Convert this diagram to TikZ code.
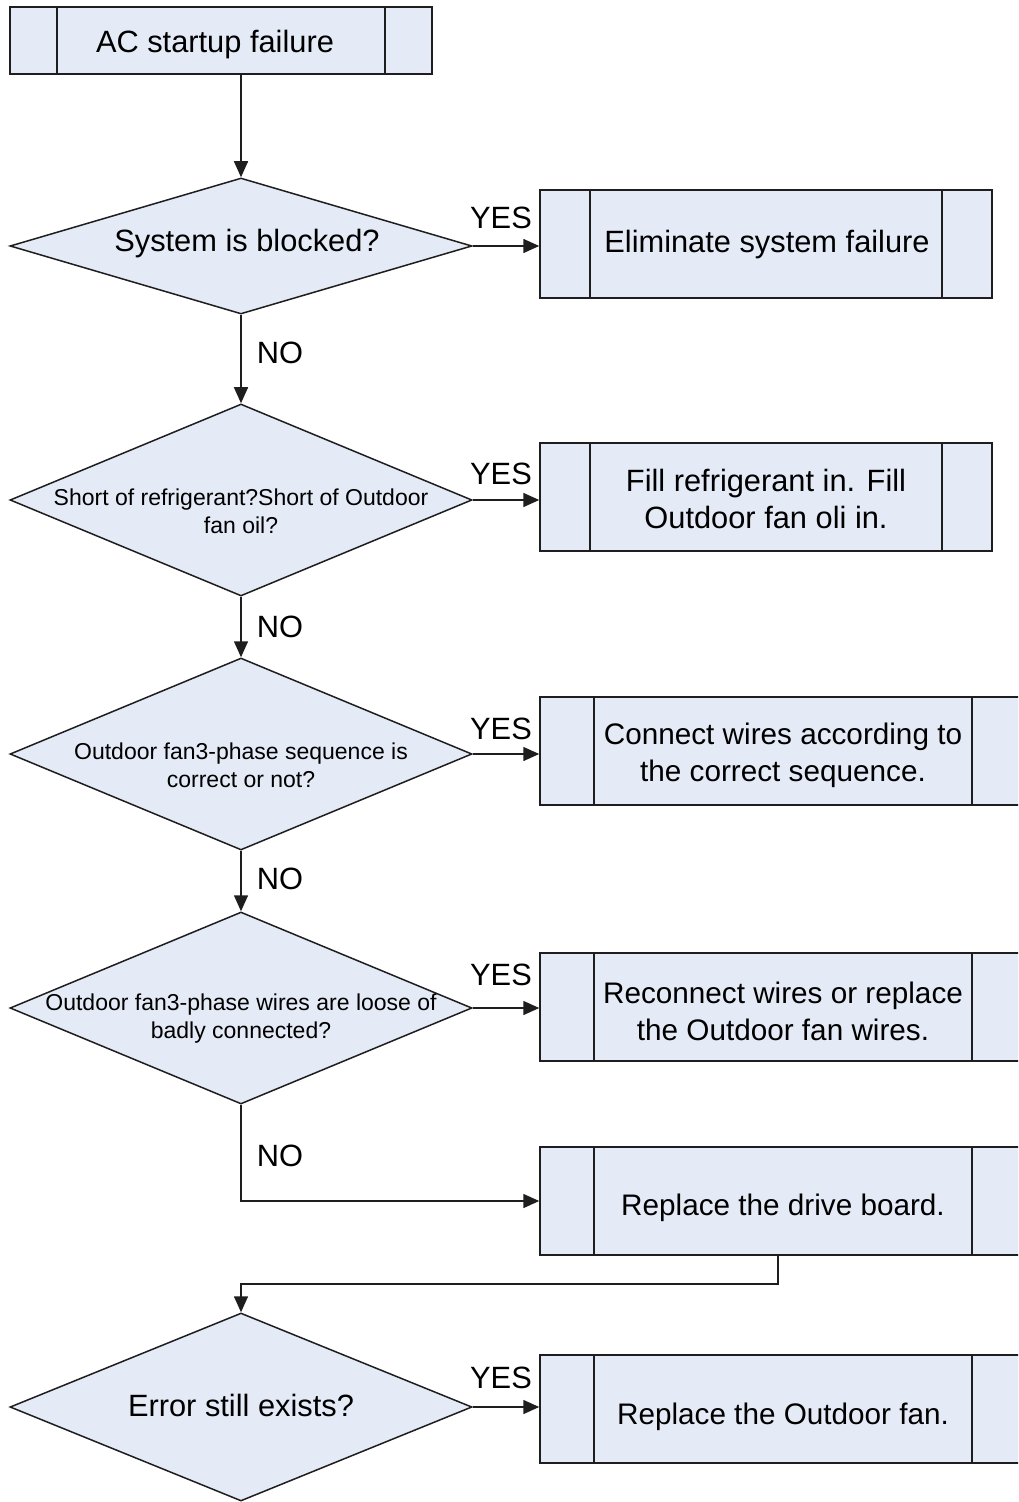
\documentclass[tikz,border=0pt]{standalone}
\usepackage{fontspec}
\setmainfont{Liberation Sans}
\usetikzlibrary{shapes.geometric,arrows.meta}
\definecolor{fc}{RGB}{228,234,246}
\definecolor{lc}{RGB}{30,30,30}
\begin{document}
\begin{tikzpicture}[x=0.5pt,y=-0.5pt,
  bigfont/.style={font=\fontsize{15.4}{18.5}\selectfont},
  midfont/.style={font=\fontsize{14.85}{18.5}\selectfont},
  smallfont/.style={font=\fontsize{11.5}{14}\selectfont},
  proc/.style={rectangle, draw=lc, fill=fc, line width=0.75pt, inner sep=0pt,
    minimum height=54pt,
    path picture={\draw[lc, line width=0.75pt]
      ([xshift=#1]path picture bounding box.north west) -- ([xshift=#1]path picture bounding box.south west)
      ([xshift=-#1]path picture bounding box.north east) -- ([xshift=-#1]path picture bounding box.south east);}},
  dec/.style={diamond, draw=lc, fill=fc, line width=0.75pt, inner sep=0pt, minimum width=231pt},
  txt/.style={align=center, inner sep=0pt},
  lbl/.style={bigfont, inner sep=0pt},
  arr/.style={draw=lc, line width=0.75pt, -{Triangle[length=8pt,width=7pt]}},
  ln/.style={draw=lc, line width=0.75pt}]
\clip (0,0) rectangle (1018,1502);
\fill[white] (0,0) rectangle (1018,1502);

\node[proc=23.5pt, minimum width=211pt, minimum height=33.5pt] (start) at (221,40.5) {};
\node[txt, bigfont] (startt) at (215,45) {AC startup failure};

\node[dec, minimum height=68pt] (d1) at (241,246) {};
\node[txt, bigfont] (d1t) at (247,244) {System is blocked?};
\node[proc=25pt, minimum width=226pt] (b1) at (766,244) {};
\node[txt, bigfont] (b1t) at (767,245) {Eliminate system failure};

\node[dec, minimum height=96pt] (d2) at (241,500) {};
\node[txt, smallfont] (d2t) at (241,511) {Short of refrigerant?Short of Outdoor\\fan oil?};
\node[proc=25pt, minimum width=226pt] (b2) at (766,497) {};
\node[txt, bigfont] (b2t) at (766,499) {Fill refrigerant in. Fill\\Outdoor fan oli in.};

\node[dec, minimum height=96pt] (d3) at (241,754) {};
\node[txt, smallfont] (d3t) at (241,765) {Outdoor fan3-phase sequence is\\correct or not?};
\node[proc=27pt, minimum width=243pt] (b3) at (783,751) {};
\node[txt, midfont] (b3t) at (783,755) {Connect wires according to\\the correct sequence.};

\node[dec, minimum height=96pt] (d4) at (241,1008) {};
\node[txt, smallfont] (d4t) at (241,1019) {Outdoor fan3-phase wires are loose of\\badly connected?};
\node[proc=27pt, minimum width=243pt] (b4) at (783,1007) {};
\node[txt, midfont] (b4t) at (783,1011) {Reconnect wires or replace\\the Outdoor fan wires.};

\node[proc=27pt, minimum width=243pt] (b5) at (783,1201) {};
\node[txt, midfont] (b5t) at (783,1208) {Replace the drive board.};

\node[dec, minimum height=94pt] (d5) at (241,1407) {};
\node[txt, bigfont] (d5t) at (241,1405) {Error still exists?};
\node[proc=27pt, minimum width=243pt] (b6) at (783,1409) {};
\node[txt, midfont] (b6t) at (783,1417) {Replace the Outdoor fan.};

\draw[arr] (start.south -| d1.north) -- (d1.north);
\draw[arr] (d1.east) -- (d1.east -| b1.west) node[lbl] (y1) at (501,218) {YES};
\draw[arr] (d1.south) -- (d2.north) node[lbl] (n1) at (280,353) {NO};
\draw[arr] (d2.east) -- (d2.east -| b2.west) node[lbl] (y2) at (501,474) {YES};
\draw[arr] (d2.south) -- (d3.north) node[lbl] (n2) at (280,627) {NO};
\draw[arr] (d3.east) -- (d3.east -| b3.west) node[lbl] (y3) at (501,729) {YES};
\draw[arr] (d3.south) -- (d4.north) node[lbl] (n3) at (280,879) {NO};
\draw[arr] (d4.east) -- (d4.east -| b4.west) node[lbl] (y4) at (501,975) {YES};
\draw[arr] (d4.south) |- (b5.west) node[lbl] (n4) at (280,1156) {NO};
\draw[arr] ([xshift=-2.5pt]b5.south) -- ++(0,28) -| (d5.north);
\draw[arr] (d5.east) -- (d5.east -| b6.west) node[lbl] (y5) at (501,1378) {YES};
\end{tikzpicture}
\end{document}
